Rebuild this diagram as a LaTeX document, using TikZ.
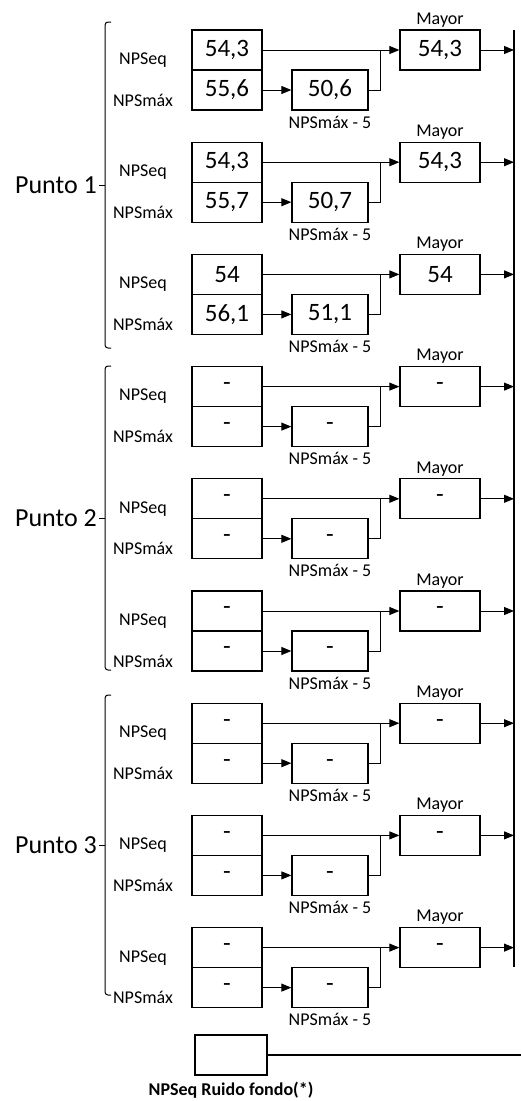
\documentclass[tikz,border=0pt]{standalone}
\usepackage{fontspec}
\setmainfont{Carlito}
\usepackage{tikz}
\usetikzlibrary{shapes, arrows.meta, positioning}

\tikzset{
  val/.style={draw, line width=1.3pt, minimum width=70pt, minimum height=40pt, inner sep=0pt, font=\fontsize{25}{27}\selectfont},
  lbl/.style={inner sep=1pt, font=\fontsize{18}{20}\selectfont},
  arr/.style={-{Triangle[length=10pt,width=8pt]}, line width=1pt}
}

\begin{document}
\begin{tikzpicture}[x=1pt,y=-1pt]
\useasboundingbox (0,0) rectangle (521,1101);

\foreach \i/\a/\b/\c/\d in {0/{54,3}/{55,6}/{50,6}/{54,3}, 1/{54,3}/{55,7}/{50,7}/{54,3}, 2/54/{56,1}/{51,1}/54,
  3/-/-/-/-, 4/-/-/-/-, 5/-/-/-/-, 6/-/-/-/-, 7/-/-/-/-, 8/-/-/-/-}{
  \pgfmathsetmacro\t{30+112.2*\i}
  \node[val] (eq\i) at (227,\t+20) {\a};
  \node[val] (mx\i) at (227,\t+60) {\b};
  \node[val, minimum width=76pt] (mn\i) at (330,\t+60) {\c};
  \node[val, minimum width=80pt] (my\i) at (440,\t+20) {\d};
  \node[lbl] (le\i) at (143,\t+30) {NPSeq};
  \node[lbl] (lm\i) at (143,\t+70) {NPSmáx};
  \node[lbl, above=1pt of my\i] (ma\i) {Mayor};
  \node[lbl, below=4pt of mn\i] (mm\i) {NPSmáx - 5};
  \coordinate (j\i) at (380,\t+20);
  \coordinate (o\i) at (514,\t+20);
  \draw[arr] (eq\i) -- (my\i);
  \draw[arr] (mx\i) -- (mn\i);
  \draw[line width=1pt] (mn\i.east) -| (j\i);
  \draw[arr] (my\i) -- (o\i);
}

% salida comun
\coordinate (rt) at (514,30);
\coordinate (rb) at (514,967);
\draw[line width=1.3pt] (rt) -- (rb);

% llaves de cada punto
\foreach \p/\u/\m/\v in {1/22/185/348, 2/366/518/670, 3/695/845/995}{
  \coordinate (bt\p) at (111,\u);
  \coordinate (bb\p) at (111,\v);
  \coordinate (bm\p) at (105,\m);
  \coordinate (bk\p) at (99,\m);
  \draw[line width=1pt, rounded corners=3pt] (bt\p) -- (105,\u) -- (105,\v) -- (bb\p);
  \draw[line width=1pt] (bm\p) -- (bk\p);
  \node[anchor=east, inner sep=2pt, font=\fontsize{26}{28}\selectfont] (pt\p) at (bk\p) {Punto \p};
}

% ruido de fondo
\node[val, minimum width=72pt] (rf) at (231,1055) {};
\node[lbl, font=\fontsize{18}{20}\selectfont\bfseries, below=5pt of rf] (rl) {NPSeq Ruido fondo(*)};
\coordinate (re) at (521,1055);
\draw[line width=1.2pt] (rf) -- (re);

\end{tikzpicture}
\end{document}
